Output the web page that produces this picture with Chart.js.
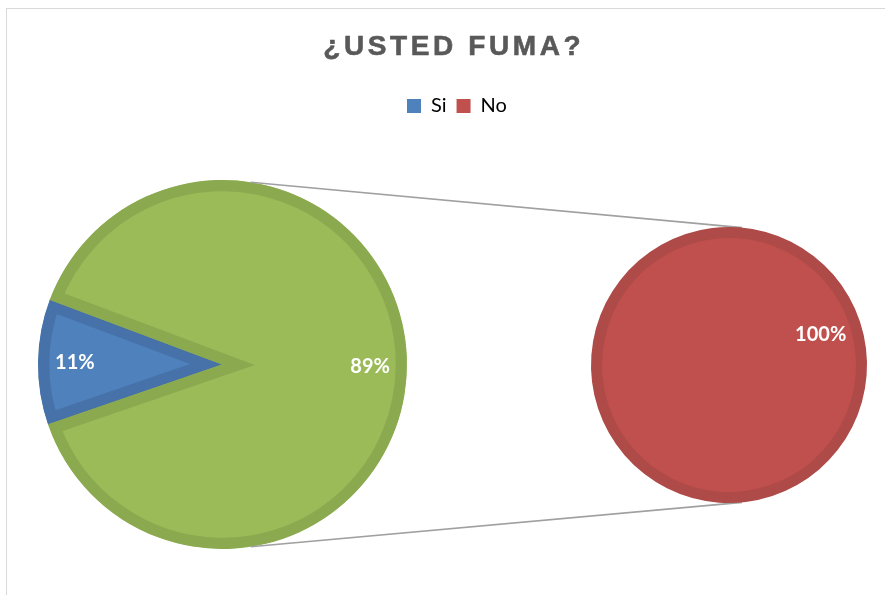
<!DOCTYPE html>
<html>
<head>
<meta charset="utf-8">
<script src="https://cdn.jsdelivr.net/npm/chart.js"></script>
<style>
  html, body { margin: 0; padding: 0; overflow: hidden; background: #fff; width: 885px; height: 595px; }
  .frame { position: absolute; left: 6px; top: 8px; width: 1000px; height: 1000px; border: 1px solid #d9d9d9; }
  canvas { position: absolute; left: 0; top: 0; }
</style>
</head>
<body>
<div class="frame"></div>
<canvas id="mainPie" width="885" height="620"></canvas>
<canvas id="subPie" width="1062" height="620"></canvas>
<script>
var chartTitle = "¿USTED FUMA?";
var mainLabels = ["Si", "Otro"];
var mainValues = [11, 89];
var subLabels = ["No"];
var subValues = [100];
var legendNames = ["Si", "No"];

var blue = "#4F81BD", green = "#9BBB59", red = "#C0504D";
var blueEdge = "#4672A9", greenEdge = "#8BAA50", redEdge = "#AE4A47";

// white percentage text inside each slice
var pctLabels = {
  id: "pctLabels",
  afterDatasetsDraw: function (chart, args, opts) {
    var ctx = chart.ctx;
    var ds = chart.data.datasets[0];
    ctx.save();
    ctx.font = "bold 20px Lato";
    ctx.fillStyle = "#fff";
    ctx.textAlign = "center";
    ctx.textBaseline = "middle";
    chart.getDatasetMeta(0).data.forEach(function (arc, i) {
      var a = (arc.startAngle + arc.endAngle) / 2;
      var r = arc.outerRadius * opts.ratio;
      ctx.fillText(ds.data[i] + "%", arc.x + Math.cos(a) * r, arc.y + Math.sin(a) * r);
    });
    ctx.restore();
  }
};

// lines joining the main pie to the secondary pie
var connectors = {
  id: "connectors",
  beforeDatasetsDraw: function (chart, args, opts) {
    var big = mainChart.getDatasetMeta(0).data[0];
    var small = chart.getDatasetMeta(0).data[0];
    var ctx = chart.ctx;
    ctx.save();
    ctx.strokeStyle = "#A0A0A0";
    ctx.lineWidth = 1.6;
    [-1, 1].forEach(function (s) {
      var a1 = s * opts.mainAngle * Math.PI / 180;
      var a2 = s * opts.subAngle * Math.PI / 180;
      ctx.beginPath();
      ctx.moveTo(big.x + Math.cos(a1) * big.outerRadius, big.y + Math.sin(a1) * big.outerRadius);
      ctx.lineTo(small.x + Math.cos(a2) * small.outerRadius, small.y + Math.sin(a2) * small.outerRadius);
      ctx.stroke();
    });
    ctx.restore();
  }
};

// title with wide letter spacing
var spacedTitle = {
  id: "spacedTitle",
  afterDraw: function (chart, args, opts) {
    var ctx = chart.ctx;
    ctx.save();
    ctx.font = "bold " + opts.size + "px 'Liberation Sans'";
    ctx.fillStyle = "#595959";
    ctx.strokeStyle = "#595959";
    ctx.lineWidth = 0.6;
    ctx.letterSpacing = opts.spacing + "px";
    ctx.textBaseline = "alphabetic";
    ctx.textAlign = "left";
    var w = ctx.measureText(opts.text).width - opts.spacing;
    ctx.fillText(opts.text, opts.x - w / 2, opts.y);
    ctx.strokeText(opts.text, opts.x - w / 2, opts.y);
    ctx.restore();
  }
};

var mainChart = new Chart("mainPie", {
  type: "pie",
  data: {
    labels: mainLabels,
    datasets: [{
      data: mainValues,
      backgroundColor: [blue, green],
      borderColor: [blueEdge, greenEdge],
      borderWidth: 11,
      borderAlign: "inner",
      borderJoinStyle: "miter",
      radius: 184.5
    }]
  },
  options: {
    responsive: false,
    animation: false,
    events: [],
    rotation: 251,
    layout: { padding: { left: 0, right: 440, top: 109, bottom: 0 } },
    plugins: {
      legend: { display: false },
      tooltip: { enabled: false },
      pctLabels: { ratio: 0.8 }
    }
  },
  plugins: [pctLabels]
});

// secondary pie: a thin dark ring around a plain red disc (no radial seam)
new Chart("subPie", {
  type: "pie",
  data: {
    labels: subLabels,
    datasets: [{
      data: subValues,
      backgroundColor: [redEdge],
      borderWidth: 0,
      weight: 11
    }, {
      data: subValues,
      backgroundColor: [red],
      borderColor: [red],
      borderWidth: 2,
      weight: 127
    }]
  },
  options: {
    responsive: false,
    animation: false,
    events: [],
    radius: 138,
    rotation: -108.3,
    layout: { padding: { left: 397, right: 1, top: 86, bottom: 16 } },
    plugins: {
      tooltip: { enabled: false },
      pctLabels: { ratio: 0.7 },
      connectors: { mainAngle: 81.2, subAngle: 84.6 },
      spacedTitle: { text: chartTitle, x: 452, y: 55, size: 28, spacing: 3.6 },
      legend: {
        position: "top",
        align: "start",
        labels: {
          boxWidth: 14,
          boxHeight: 14,
          padding: 10,
          color: "#595959",
          font: { family: "Lato", size: 20 },
          generateLabels: function () {
            return [
              { text: legendNames[0], fillStyle: blue, strokeStyle: blue, lineWidth: 0 },
              { text: legendNames[1], fillStyle: red, strokeStyle: red, lineWidth: 0 }
            ];
          }
        }
      }
    }
  },
  plugins: [pctLabels, connectors, spacedTitle]
});
</script>
</body>
</html>
